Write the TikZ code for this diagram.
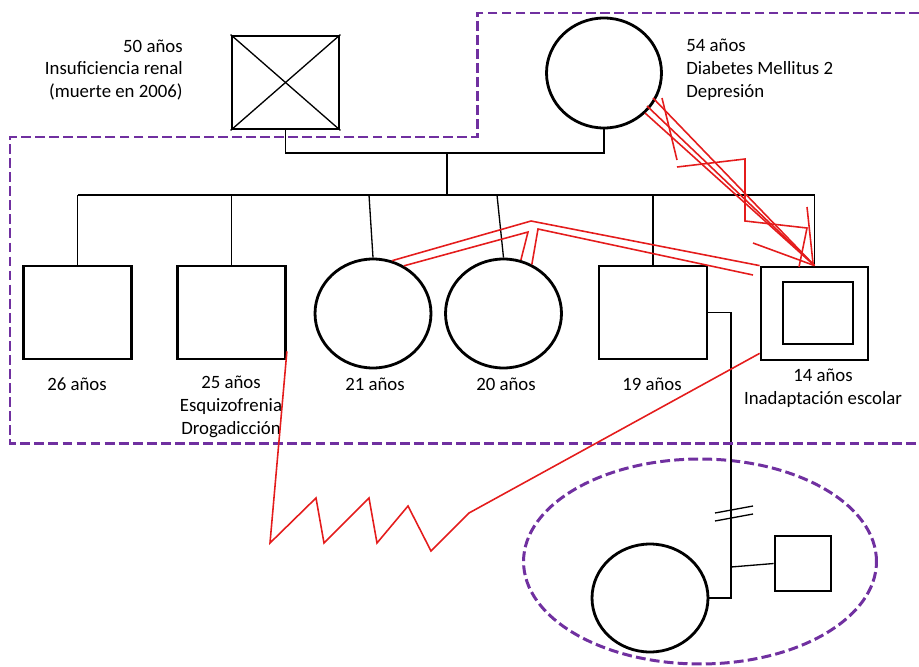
\documentclass[tikz,border=0pt]{standalone}
\usepackage{fontspec}
\setmainfont{Carlito}
\usetikzlibrary{shapes.geometric}
\definecolor{grupomorado}{RGB}{112,48,160}
\definecolor{conflictorojo}{RGB}{228,28,28}
\begin{document}
\begin{tikzpicture}[
        x=0.02cm,
        y=-0.02cm,
        font=\fontsize{10.7}{13}\selectfont,
        varon/.style={draw, rectangle, line width=1.6pt, inner sep=0pt, minimum width=2.16cm, minimum height=1.86cm},
        mujer/.style={draw, ellipse, line width=1.6pt, inner sep=0pt, minimum width=2.32cm, minimum height=2.18cm},
        linea/.style={line width=0.75pt},
        conflicto/.style={conflictorojo, line width=0.9pt},
        grupo/.style={grupomorado, line width=1.7pt, dash pattern=on 5.6pt off 2.4pt},
        etiqueta/.style={align=center, inner sep=0pt}
    ]
    \useasboundingbox (0,0) rectangle (919,666);

    \node[varon, minimum width=2.14cm] (padre) at (285.5,82.5) {};
    \node[mujer, minimum width=2.3cm, minimum height=2.2cm] (madre) at (604,73) {};
    \node[varon] (h26) at (77.5,312.5) {};
    \node[varon] (h25) at (231.5,312.5) {};
    \node[mujer] (h21) at (373,313.5) {};
    \node[mujer] (h20) at (503.5,313.5) {};
    \node[varon] (h19) at (653,312.5) {};
    \node[varon, minimum width=2.14cm] (h14) at (814.5,313.5) {};
    \node[draw, rectangle, line width=1.6pt, minimum width=1.4cm, minimum height=1.24cm] (h14in) at (818,313) {};
    \node[mujer, minimum width=2.32cm, minimum height=2.16cm] (pareja) at (650,598) {};
    \node[varon, minimum width=1.12cm, minimum height=1.1cm] (nieto) at (803,563.5) {};
    \node[grupo, draw, ellipse, minimum width=7.06cm, minimum height=4.1cm] (nucleo) at (700,561.5) {};

    \node[etiqueta, anchor=east, align=right] (lpadre) at (183,70) {50 años\\Insuficiencia renal\\(muerte en 2006)};
    \node[etiqueta, anchor=west, align=left] (lmadre) at (686,70) {54 años\\Diabetes Mellitus 2\\Depresión};
    \node[etiqueta] (l26) at (77,384) {26 años};
    \node[etiqueta] (l25) at (231,407) {25 años\\Esquizofrenia\\Drogadicción};
    \node[etiqueta] (l21) at (375,384) {21 años};
    \node[etiqueta] (l20) at (506,384) {20 años};
    \node[etiqueta] (l19) at (652,384) {19 años};
    \node[etiqueta] (l14) at (823,388.5) {14 años\\Inadaptación escolar};

    \coordinate (union) at (447,153);
    \coordinate (fratria) at (447,195);
    \coordinate (d21) at (369,195);
    \coordinate (d20) at (497,195);
    \coordinate (union2) at (731,598);
    \coordinate (hijo2) at (731,567);

    \draw[linea] (padre.north west) -- (padre.south east);
    \draw[linea] (padre.north east) -- (padre.south west);
    \draw[linea] (padre.south) |- (union) -| (madre.south);
    \draw[linea] (union) -- (fratria);
    \draw[linea] (h26.north |- fratria) -- (h14.north |- fratria);
    \draw[linea] (h26.north) -- (h26.north |- fratria);
    \draw[linea] (h25.north) -- (h25.north |- fratria);
    \draw[linea] (h21.north) -- (d21);
    \draw[linea] (h20.north) -- (d20);
    \draw[linea] (h19.north) -- (h19.north |- fratria);
    \draw[linea] (h14.north) -- (h14.north |- fratria);
    \draw[linea] (h19.east) -| (union2) -- (pareja.east);
    \draw[linea] (hijo2) -- (nieto.west);
    \draw[linea] (715,513) -- (753,506);
    \draw[linea] (715,521) -- (753,514);

    \draw[grupo] (919,13) -- (477,13) -- (477,137) -- (10,137) -- (10,443) -- (919,443);

    \draw[conflicto] (h25.-35) -- (270,543) -- (316,498) -- (324,543) -- (369,498) -- (377,543)
        -- (408,506) -- (431,551) -- (469,513) -- (h14.-144);
    \draw[conflicto] (h21.70) -- (531,221) -- (h14.north west);
    \draw[conflicto] (h21.57) -- (528,232) -- (h20.72);
    \draw[conflicto] (h20.60) -- (538,229) -- (753,275);
    \draw[conflicto] (653,98) -- (h14.north);
    \draw[conflicto] (647,106) -- (h14.north);
    \draw[conflicto] (645,113) -- (h14.north);
    \draw[conflicto] (662,98) -- (677,160);
    \draw[conflicto] (677,167) -- (745,159) -- (745,221) -- (807,228) -- (799,267);
    \draw[conflicto] (807,207) -- (813,263);
    \draw[conflicto] (753,243) -- (h14.north);
\end{tikzpicture}
\end{document}
